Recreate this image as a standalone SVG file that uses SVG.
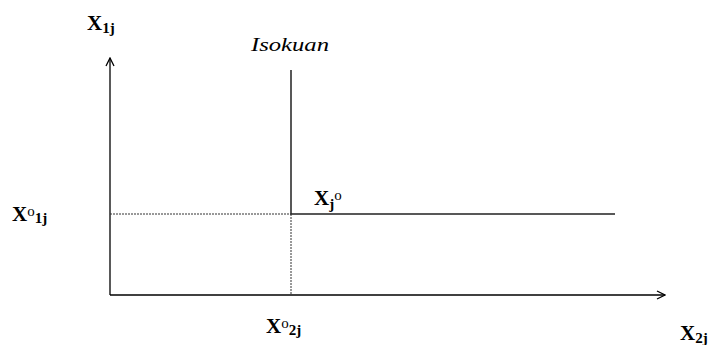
<svg xmlns="http://www.w3.org/2000/svg" width="724" height="345" viewBox="0 0 724 345">
<style>
.ax{stroke:#000;stroke-width:1.3;fill:none}
.ln{stroke:#222;stroke-width:1.5;fill:none}
.dt{stroke:#333;stroke-width:1;stroke-dasharray:2,1;fill:none}
.t{font-family:"Liberation Serif",serif;font-weight:bold;font-size:21px;fill:#000}
.s{font-size:15px}
.o{font-size:15px;font-weight:normal}
.i{font-family:"Liberation Serif",serif;font-style:italic;font-size:18px;fill:#000}
</style>
<defs>
<marker id="ah" viewBox="0 0 10 10" refX="9" refY="5" markerWidth="10" markerHeight="10" markerUnits="userSpaceOnUse" orient="auto">
<path d="M1,1 L9,5 L1,9" fill="none" stroke="#000" stroke-width="1.3"/>
</marker>
</defs>
<g id="connectors">
<line class="ax" x1="110" y1="295" x2="110" y2="58" marker-end="url(#ah)"/>
<line class="ax" x1="110" y1="295" x2="665" y2="295" marker-end="url(#ah)"/>
<line class="dt" x1="110" y1="214" x2="291" y2="214"/>
<line class="dt" x1="291" y1="214" x2="291" y2="295"/>
</g>
<g id="isoquant">
<polyline class="ln" points="291,70 291,214 615,214"/>
<text class="i" x="251" y="51" textLength="78" lengthAdjust="spacingAndGlyphs">Isokuan</text>
</g>
<g id="label-x1j"><text class="t" x="87" y="30">X<tspan class="s" dy="3">1j</tspan></text></g>
<g id="label-x01j"><text class="t" x="12" y="221">X<tspan class="o" dy="-5">o</tspan><tspan class="s" dy="7">1j</tspan></text></g>
<g id="label-xj0"><text class="t" x="314" y="205">X<tspan class="s" dy="4">j</tspan><tspan class="o" dy="-9">o</tspan></text></g>
<g id="label-x02j"><text class="t" x="266" y="333">X<tspan class="o" dy="-5">o</tspan><tspan class="s" dy="7">2j</tspan></text></g>
<g id="label-x2j"><text class="t" x="680" y="340">X<tspan class="s" dy="3">2j</tspan></text></g>
</svg>
